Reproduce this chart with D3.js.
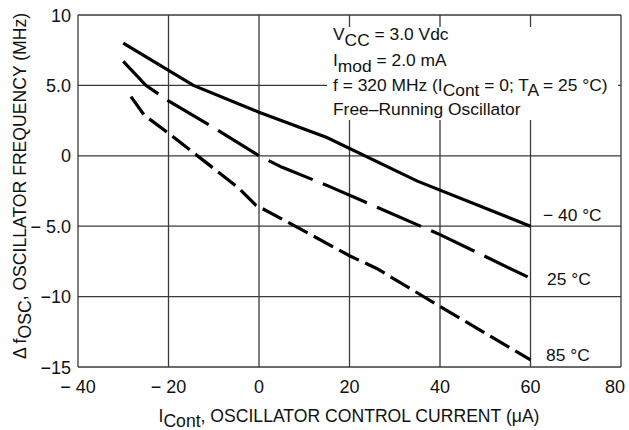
<!DOCTYPE html>
<html>
<head>
<meta charset="utf-8">
<script src="https://cdn.jsdelivr.net/npm/d3@7"></script>
<style>
  body { margin: 0; background: #fff; }
  text { font-family: "Liberation Sans", Arial, sans-serif; fill: #111; }
</style>
</head>
<body>
<svg width="629" height="430"></svg>
<script>
// values
var xTicks = [-40, -20, 0, 20, 40, 60, 80]
var xTickLabels = ["\u2212 40", "\u2212 20", "0", "20", "40", "60", "80"]
var yTicks = [10, 5, 0, -5, -10, -15]
var yTickLabels = ["10", "5.0", "0", "\u2212 5.0", "\u221210", "\u221215"]

var currentM40 = [-30, -14.5, 0, 15, 35, 60]
var freqM40 = [8.0, 5.0, 3.1, 1.3, -1.8, -5.0]

var current25 = [-30, -25, -20, -10, 0, 5, 15, 25, 40, 60]
var freq25 = [6.7, 5.0, 3.9, 2.0, 0, -0.8, -2.1, -3.5, -5.6, -8.7]

var current85 = [-28.3, -25.4, -20, -10, -4.5, -0.7, 8.6, 20, 26, 40, 60]
var freq85 = [4.2, 2.9, 1.6, -0.9, -2.3, -3.5, -5.1, -7.1, -8.0, -10.7, -14.5]

var seriesNames = ["\u2212 40 \u00b0C", "25 \u00b0C", "85 \u00b0C"]

var svg = d3.select("svg")
var x = d3.scaleLinear().domain([-40, 80]).range([78, 621])
var y = d3.scaleLinear().domain([-15, 10]).range([367, 15])

// grid
var grid = svg.append("g").attr("stroke", "#3a3a3a").attr("stroke-width", 1.3)
grid.selectAll(".vx").data(xTicks).enter().append("line")
    .attr("x1", d => x(d)).attr("x2", d => x(d))
    .attr("y1", y(10)).attr("y2", y(-15))
grid.selectAll(".hy").data(yTicks).enter().append("line")
    .attr("y1", d => y(d)).attr("y2", d => y(d))
    .attr("x1", x(-40)).attr("x2", x(80))

// tick labels
svg.selectAll(".xt").data(xTicks).enter().append("text")
    .attr("x", d => x(d)).attr("y", 393)
    .attr("dx", (d, i) => i == xTicks.length - 1 ? -6 : 0)
    .attr("text-anchor", "middle").attr("font-size", 18)
    .text((d, i) => xTickLabels[i])
svg.selectAll(".yt").data(yTicks).enter().append("text")
    .attr("x", 71).attr("y", d => y(d) + 6.5)
    .attr("text-anchor", "end").attr("font-size", 18)
    .text((d, i) => yTickLabels[i])

// white box behind the conditions text
svg.append("rect").attr("x", 327).attr("y", 27).attr("width", 291).attr("height", 93).attr("fill", "#fff")

var note = svg.append("g").attr("font-size", 17.4)
function noteLine(yy, parts, sh) {
    var t = note.append("text").attr("x", 333).attr("y", yy)
    parts.forEach(p => {
        t.append("tspan").attr("dy", p[1] ? sh : (p[2] ? -sh : 0)).text(p[0])
    })
}
noteLine(40, [["V"], ["CC", true], [" = 3.0 Vdc", false, true]], 6)
noteLine(66, [["I"], ["mod", true], [" = 2.0 mA", false, true]], 6)
noteLine(91, [["f = 320 MHz (I"], ["Cont", true], [" = 0; T", false, true], ["A", true], [" = 25 \u00b0C)", false, true]], 5)
noteLine(115, [["Free\u2013Running Oscillator"]], 0)

// curves
var line = d3.line().x(d => x(d[0])).y(d => y(d[1]))
var curves = [
    { pts: d3.zip(currentM40, freqM40), dash: null },
    { pts: d3.zip(current25, freq25), dash: "48,11" },
    { pts: d3.zip(current85, freq85), dash: "22,7" }
]
svg.selectAll(".curve").data(curves).enter().append("path")
    .attr("d", d => line(d.pts))
    .attr("fill", "none").attr("stroke", "#000").attr("stroke-width", 3.2)
    .attr("stroke-dasharray", d => d.dash)

var labelPos = [[543, 221], [547, 285], [546, 361]]
svg.selectAll(".cl").data(seriesNames).enter().append("text")
    .attr("x", (d, i) => labelPos[i][0]).attr("y", (d, i) => labelPos[i][1])
    .attr("font-size", 17.4).text(d => d)

// axis titles
var xt = svg.append("text").attr("x", 349).attr("y", 422).attr("text-anchor", "middle").attr("font-size", 17.6)
xt.append("tspan").text("I")
xt.append("tspan").attr("dy", 5).text("Cont")
xt.append("tspan").attr("dy", -5).text(", OSCILLATOR CONTROL CURRENT (\u03bcA)")

var yt = svg.append("text").attr("transform", "translate(25.5,186) rotate(-90)")
    .attr("text-anchor", "middle").attr("font-size", 17.6)
yt.append("tspan").text("\u0394 f")
yt.append("tspan").attr("dy", 5).text("OSC")
yt.append("tspan").attr("dy", -5).text(", OSCILLATOR FREQUENCY (MHz)")
</script>
</body>
</html>
